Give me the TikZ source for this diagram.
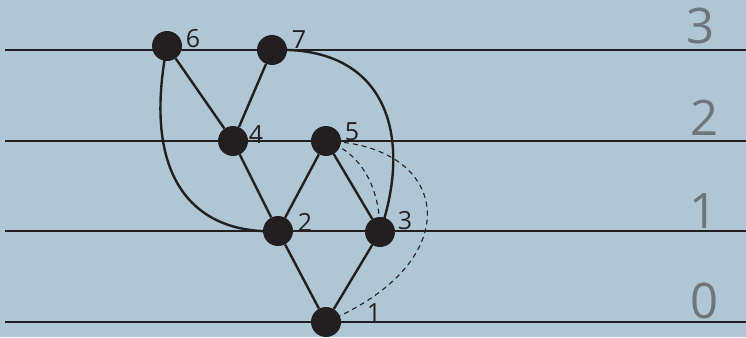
\documentclass[tikz,border=0pt]{standalone}
\usepackage{fontspec}
\setmainfont{Open Sans}
\usetikzlibrary{positioning}
\definecolor{bgblue}{RGB}{175,199,212}
\definecolor{dotblk}{RGB}{35,31,32}
\definecolor{lvlgray}{RGB}{110,118,124}
\tikzset{
  vtx/.style={circle,fill=dotblk,inner sep=0pt,minimum size=30pt},
  edg/.style={draw=dotblk,line width=2.4pt},
  dedg/.style={draw=dotblk,line width=1.1pt,dash pattern=on 5pt off 4pt},
  lvl/.style={draw=dotblk,line width=1.2pt},
  lbl/.style={inner sep=0pt,text=dotblk,font=\fontsize{25}{29}\selectfont},
  rank/.style={inner sep=0pt,text=lvlgray,font=\fontsize{49}{56}\selectfont}}

\begin{document}
\begin{tikzpicture}[x=1pt,y=1pt]
	\fill[bgblue] (0,0) rectangle (746,-337);
	\useasboundingbox (0,0) rectangle (746,-337);
	% levels
	\coordinate (a3) at (5,-50);   \coordinate (b3) at (746,-50);
	\coordinate (a2) at (5,-141);  \coordinate (b2) at (746,-141);
	\coordinate (a1) at (5,-231);  \coordinate (b1) at (746,-231);
	\coordinate (a0) at (5,-322);  \coordinate (b0) at (746,-322);
	\foreach \k in {0,...,3} {\draw[lvl] (a\k) -- (b\k);}
	\node[rank] (r3) at (700,-26) {3};
	\node[rank] (r2) at (704,-118) {2};
	\node[rank] (r1) at (703,-211) {1};
	\node[rank] (r0) at (704,-301) {0};
	% curved and dashed edges
	\draw[edg] (167,-46) coordinate (c6) .. controls (140,-185) and (200,-235) .. (278,-231) coordinate (c2);
	\draw[edg] (272,-50) coordinate (c7) .. controls (390,-45) and (412,-140) .. (380,-232) coordinate (c3);
	\draw[dedg] (326,-141) coordinate (c5) .. controls (355,-150) and (380,-180) .. (c3);
	\draw[dedg] (c5) .. controls (452,-145) and (470,-262) .. (326,-322) coordinate (c1);
	% vertices
	\node[vtx] (n1) at (c1) {};
	\node[vtx] (n2) at (c2) {};
	\node[vtx] (n3) at (c3) {};
	\node[vtx] (n4) at (233,-141) {};
	\node[vtx] (n5) at (c5) {};
	\node[vtx] (n6) at (c6) {};
	\node[vtx] (n7) at (c7) {};
	\draw[edg] (n6) -- (n4) -- (n7);
	\draw[edg] (n4) -- (n2) -- (n5) -- (n3);
	\draw[edg] (n2) -- (n1) -- (n3);
	\node[lbl] (t1) at (374,-313) {1};
	\node[lbl] (t2) at (305,-222) {2};
	\node[lbl] (t3) at (405,-221) {3};
	\node[lbl] (t4) at (256,-135) {4};
	\node[lbl] (t5) at (352,-132) {5};
	\node[lbl] (t6) at (193,-39) {6};
	\node[lbl] (t7) at (299,-40) {7};
\end{tikzpicture}
\end{document}
